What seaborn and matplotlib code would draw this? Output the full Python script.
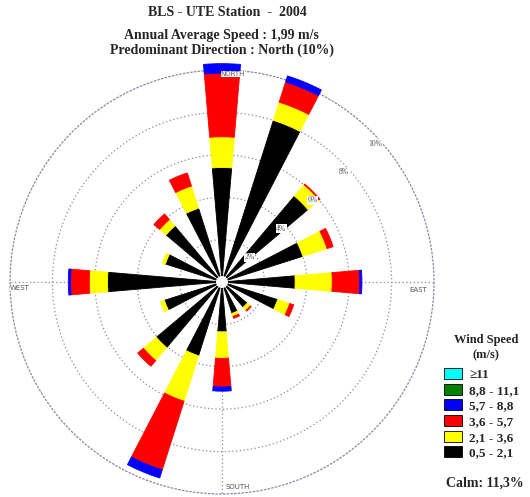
import numpy as np
import pandas as pd
import seaborn as sns
import matplotlib.pyplot as plt
from matplotlib.patches import Patch

sns.set_style("white")
plt.rcParams['font.family'] = ['Liberation Serif', 'DejaVu Serif']

# ---------------- data (frequency, % of time) ----------------
directions = ["N", "NNE", "NE", "ENE", "E", "ESE", "SE", "SSE",
              "S", "SSW", "SW", "WSW", "W", "WNW", "NW", "NNW"]
speed_0_5_2_1 = [5.40, 8.00, 5.30, 4.00, 3.45, 2.75, 1.55, 1.55,
                 2.35, 3.65, 4.05, 2.85, 5.40, 2.80, 3.45, 3.65]
speed_2_1_3_6 = [1.45, 0.90, 0.70, 1.20, 1.75, 0.60, 0.20, 0.15,
                 1.25, 2.25, 0.80, 0.20, 0.86, 0.15, 0.40, 1.10]
speed_3_6_5_7 = [3.00, 1.00, 0.05, 0.30, 1.30, 0.20, 0.05, 0.10,
                 1.35, 3.40, 0.35, 0.00, 0.88, 0.00, 0.35, 0.65]
speed_5_7_8_8 = [0.45, 0.30, 0.00, 0.00, 0.10, 0.00, 0.00, 0.00,
                 0.20, 0.40, 0.00, 0.00, 0.11, 0.00, 0.00, 0.00]
speed_8_8_11_1 = [0.0] * 16
speed_ge_11 = [0.0] * 16

band_labels = ["0,5 - 2,1", "2,1 - 3,6", "3,6 - 5,7", "5,7 - 8,8", "8,8 - 11,1", "\u226511"]
band_colors = ["#000000", "#FFFF00", "#FF0000", "#0000FF", "#008000", "#00FFFF"]
ring_values = [2, 4, 6, 8, 10]
calm_text = "Calm: 11,3%"
legend_title = ["Wind Speed", "(m/s)"]
title_lines = ["BLS - UTE Station  -  2004",
               "Annual Average Speed : 1,99 m/s",
               "Predominant Direction : North (10%)"]

df = pd.DataFrame({
    "direction": directions,
    band_labels[0]: speed_0_5_2_1,
    band_labels[1]: speed_2_1_3_6,
    band_labels[2]: speed_3_6_5_7,
    band_labels[3]: speed_5_7_8_8,
    band_labels[4]: speed_8_8_11_1,
    band_labels[5]: speed_ge_11,
})
palette = sns.color_palette(band_colors)

# ---------------- figure ----------------
W, H = 530, 497
fig = plt.figure(figsize=(W / 100, H / 100), dpi=100)
cx, cy, R = 222, 282, 212  # centre / 10 % radius in pixels
ax = fig.add_axes([(cx - R) / W, (H - cy - R) / H, 2 * R / W, 2 * R / H],
                  projection='polar')
ax.set_theta_zero_location('N')
ax.set_theta_direction(-1)
ax.set_ylim(0, 10)
ax.set_axisbelow(True)

theta = np.deg2rad(np.arange(len(directions)) * 22.5)
bottom = np.zeros(len(directions))
for lab, col in zip(band_labels, palette):
    vals = df[lab].to_numpy(dtype=float)
    m = vals > 0
    if m.any():
        ax.bar(theta[m], vals[m], width=0.17, bottom=bottom[m], color=col,
               edgecolor=col, linewidth=0.6, clip_on=False, zorder=3)
    bottom += vals

# calm circle at centre
ax.bar(0, 0.25, width=2 * np.pi, bottom=0, color='white', edgecolor='white',
       zorder=4)

# grid
grid_col = '#8a8aa0'
ax.set_rgrids(ring_values[:-1], labels=[""] * (len(ring_values) - 1))
ax.set_thetagrids([0, 90, 180, 270], labels=["", "", "", ""])
ax.grid(True, color=grid_col, linestyle=(0, (1, 2)), linewidth=0.9)
ax.spines['polar'].set_color(grid_col)
ax.spines['polar'].set_linestyle((0, (1, 2)))
ax.spines['polar'].set_linewidth(0.9)

# ring labels
for v in ring_values:
    ax.text(np.deg2rad(48), v - 0.25, f"{v}%", fontsize=5.5, color='#555555',
            ha='center', va='center', zorder=5,
            bbox=dict(facecolor='white', edgecolor='none', pad=0.3))

# compass labels
for ang, name, dx, dy in [(0, "NORTH", 11, -4), (90, "EAST", -16, -8),
                          (180, "SOUTH", 16, 7), (270, "WEST", 10, -6)]:
    ax.annotate(name, xy=(np.deg2rad(ang), 10), xytext=(dx, dy),
                textcoords='offset pixels', fontsize=5, color='#555555',
                family='DejaVu Sans', ha='center', va='center', zorder=6,
                annotation_clip=False,
                bbox=dict(facecolor='white', edgecolor='none', pad=0.2))

# titles
for (x, y, txt) in zip([227, 221, 222], [13, 35, 50], title_lines):
    fig.text(x / W, 1 - y / H, txt, ha='center', va='center',
             fontsize=10, weight='bold')

# legend
for y, txt in zip([340, 355], legend_title):
    fig.text(486 / W, 1 - y / H, txt, ha='center', va='center',
             fontsize=9, weight='bold')
handles = [Patch(facecolor=c, edgecolor='black', linewidth=0.6)
           for c in palette][::-1]
leg = fig.legend(handles, band_labels[::-1],
                 loc='upper left', bbox_to_anchor=(444 / W, 1 - 368 / H),
                 frameon=False, handlelength=1.4, handleheight=0.9,
                 handletextpad=0.5, labelspacing=0.2, borderpad=0,
                 borderaxespad=0,
                 prop={'weight': 'bold', 'size': 9.5})
fig.text(485 / W, 1 - 483 / H, calm_text, ha='center', va='center',
         fontsize=10, weight='bold')

fig.savefig("out.png", dpi=100)
